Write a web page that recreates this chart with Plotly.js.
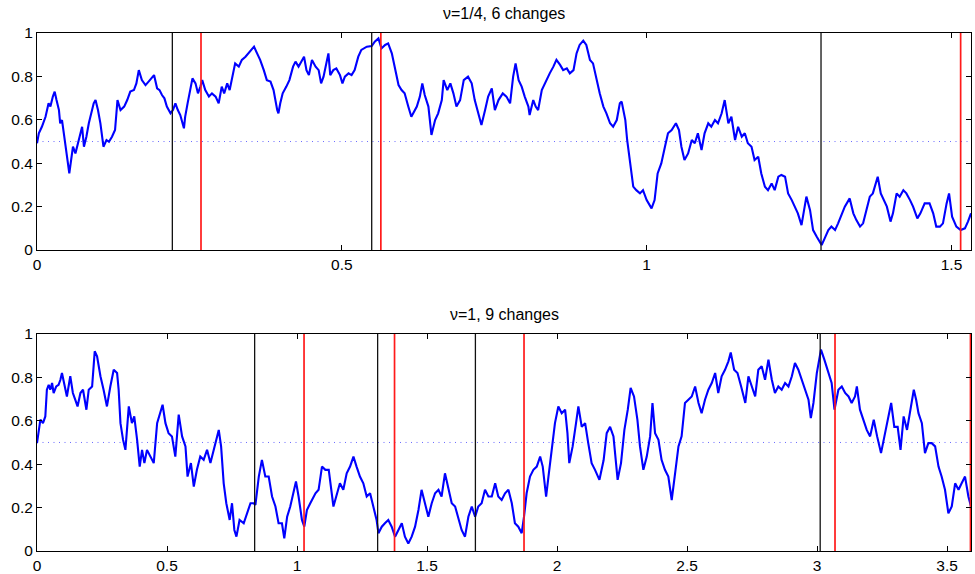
<!DOCTYPE html>
<html>
<head>
<meta charset="utf-8">
<script src="https://cdn.plot.ly/plotly-3.0.1.min.js"></script>
<style>html,body{margin:0;padding:0;background:#fff;}#chart{width:975px;height:574px;}</style>
</head>
<body>
<div id="chart"></div>
<script>
// ---------- data ----------
const topTitle = 'ν=1/4, 6 changes';
const botTitle = 'ν=1, 9 changes';

const topX = [
0.000,0.003,0.008,0.014,0.019,0.022,0.026,0.029,0.032,0.036,
0.038,0.041,0.044,0.046,0.049,0.053,0.056,0.059,0.063,0.067,
0.071,0.074,0.077,0.081,0.085,0.089,0.093,0.096,0.100,0.104,
0.107,0.109,0.114,0.118,0.123,0.128,0.132,0.137,0.143,0.148,
0.153,0.159,0.163,0.167,0.172,0.178,0.183,0.189,0.192,0.197,
0.201,0.205,0.209,0.213,0.219,0.223,0.227,0.231,0.235,0.241,
0.243,0.247,0.252,0.255,0.260,0.264,0.268,0.271,0.276,0.282,
0.287,0.293,0.298,0.303,0.307,0.312,0.316,0.320,0.325,0.331,
0.336,0.342,0.347,0.353,0.356,0.361,0.366,0.372,0.377,0.383,
0.388,0.394,0.396,0.399,0.403,0.409,0.414,0.420,0.424,0.429,
0.435,0.438,0.442,0.446,0.451,0.457,0.462,0.466,0.470,0.476,
0.478,0.481,0.486,0.491,0.497,0.501,0.505,0.511,0.516,0.521,
0.527,0.532,0.541,0.549,0.554,0.560,0.565,0.571,0.576,0.582,
0.587,0.593,0.598,0.603,0.609,0.614,0.623,0.628,0.632,0.636,
0.642,0.647,0.653,0.658,0.664,0.667,0.673,0.678,0.683,0.688,
0.694,0.700,0.707,0.713,0.718,0.724,0.729,0.735,0.740,0.746,
0.751,0.757,0.764,0.770,0.776,0.781,0.785,0.790,0.795,0.800,
0.806,0.808,0.814,0.818,0.822,0.828,0.833,0.841,0.847,0.852,
0.858,0.863,0.869,0.874,0.880,0.885,0.890,0.896,0.901,0.907,
0.912,0.918,0.923,0.929,0.934,0.940,0.945,0.951,0.956,0.959,
0.965,0.968,0.972,0.978,0.983,0.989,0.994,1.000,1.008,1.013,
1.018,1.024,1.030,1.035,1.041,1.048,1.053,1.057,1.062,1.068,
1.074,1.079,1.084,1.090,1.095,1.101,1.106,1.112,1.117,1.123,
1.128,1.134,1.139,1.145,1.150,1.156,1.161,1.166,1.172,1.177,
1.183,1.188,1.194,1.199,1.205,1.210,1.216,1.221,1.227,1.232,
1.238,1.243,1.248,1.254,1.259,1.262,1.268,1.273,1.279,1.287,
1.292,1.298,1.303,1.309,1.314,1.320,1.325,1.333,1.339,1.344,
1.350,1.355,1.361,1.366,1.371,1.379,1.384,1.389,1.394,1.400,
1.404,1.410,1.415,1.421,1.426,1.432,1.437,1.444,1.449,1.456,
1.464,1.470,1.475,1.481,1.486,1.492,1.496,1.501,1.508,1.515,
1.522,1.527,1.532];
const topY = [
0.492,0.538,0.568,0.614,0.676,0.661,0.707,0.730,0.691,0.645,
0.584,0.599,0.538,0.492,0.430,0.353,0.415,0.476,0.445,0.492,
0.538,0.568,0.476,0.522,0.584,0.630,0.676,0.691,0.645,0.584,
0.522,0.476,0.507,0.499,0.522,0.553,0.691,0.645,0.661,0.691,
0.730,0.737,0.768,0.829,0.783,0.760,0.776,0.799,0.806,0.745,
0.737,0.714,0.699,0.661,0.630,0.645,0.676,0.645,0.622,0.561,
0.614,0.676,0.753,0.791,0.768,0.722,0.753,0.783,0.737,0.707,
0.722,0.707,0.676,0.753,0.722,0.768,0.737,0.791,0.860,0.845,
0.876,0.891,0.906,0.929,0.937,0.906,0.876,0.829,0.783,0.776,
0.737,0.645,0.630,0.676,0.722,0.753,0.783,0.845,0.868,0.845,
0.876,0.891,0.829,0.806,0.876,0.845,0.829,0.768,0.799,0.891,
0.906,0.806,0.829,0.837,0.806,0.768,0.799,0.814,0.806,0.829,
0.891,0.922,0.937,0.940,0.960,0.975,0.929,0.945,0.952,0.906,
0.845,0.760,0.737,0.722,0.661,0.614,0.661,0.707,0.768,0.714,
0.661,0.530,0.599,0.630,0.691,0.783,0.737,0.768,0.722,0.661,
0.691,0.783,0.799,0.768,0.691,0.630,0.576,0.645,0.707,0.745,
0.645,0.691,0.722,0.707,0.676,0.799,0.860,0.783,0.753,0.707,
0.661,0.622,0.691,0.661,0.645,0.737,0.768,0.814,0.845,0.876,
0.853,0.829,0.837,0.814,0.829,0.906,0.945,0.965,0.945,0.876,
0.860,0.783,0.722,0.661,0.630,0.584,0.568,0.599,0.676,0.684,
0.599,0.507,0.415,0.292,0.276,0.261,0.276,0.230,0.192,0.230,
0.353,0.399,0.476,0.538,0.553,0.584,0.553,0.476,0.415,0.445,
0.507,0.492,0.538,0.461,0.538,0.584,0.568,0.599,0.584,0.630,
0.691,0.584,0.614,0.507,0.568,0.522,0.538,0.492,0.476,0.415,
0.430,0.353,0.292,0.276,0.307,0.276,0.338,0.346,0.338,0.261,
0.230,0.200,0.169,0.115,0.200,0.246,0.184,0.092,0.061,0.023,
0.054,0.092,0.108,0.092,0.123,0.169,0.200,0.238,0.169,0.138,
0.108,0.123,0.184,0.246,0.261,0.338,0.261,0.230,0.200,0.131,
0.169,0.261,0.246,0.276,0.261,0.230,0.200,0.146,0.169,0.215,
0.215,0.169,0.108,0.108,0.123,0.215,0.261,0.154,0.108,0.092,
0.100,0.131,0.169];

const botX = [
0.000,0.006,0.013,0.023,0.032,0.038,0.045,0.051,0.058,0.064,
0.074,0.083,0.090,0.096,0.105,0.115,0.128,0.138,0.147,0.156,
0.167,0.177,0.190,0.199,0.212,0.222,0.231,0.244,0.256,0.269,
0.282,0.295,0.308,0.314,0.321,0.331,0.340,0.353,0.365,0.374,
0.385,0.395,0.404,0.413,0.423,0.436,0.449,0.462,0.474,0.483,
0.494,0.506,0.519,0.532,0.545,0.558,0.571,0.579,0.592,0.603,
0.615,0.628,0.641,0.654,0.667,0.679,0.690,0.699,0.708,0.718,
0.728,0.741,0.750,0.759,0.767,0.779,0.795,0.808,0.821,0.833,
0.840,0.853,0.865,0.878,0.891,0.904,0.917,0.929,0.942,0.951,
0.962,0.974,0.987,0.996,1.006,1.019,1.028,1.038,1.051,1.071,
1.083,1.096,1.109,1.122,1.140,1.153,1.165,1.178,1.191,1.204,
1.217,1.229,1.242,1.255,1.268,1.281,1.294,1.306,1.313,1.326,
1.338,1.351,1.364,1.377,1.390,1.403,1.415,1.428,1.441,1.454,
1.467,1.479,1.492,1.505,1.518,1.531,1.544,1.556,1.569,1.582,
1.595,1.608,1.620,1.633,1.646,1.659,1.672,1.685,1.697,1.710,
1.723,1.736,1.749,1.762,1.774,1.787,1.800,1.813,1.826,1.838,
1.851,1.864,1.873,1.883,1.896,1.909,1.922,1.935,1.945,1.958,
1.967,1.979,1.992,2.005,2.018,2.031,2.040,2.047,2.060,2.073,
2.082,2.095,2.108,2.120,2.133,2.146,2.163,2.179,2.191,2.204,
2.217,2.233,2.246,2.259,2.272,2.283,2.296,2.309,2.319,2.332,
2.345,2.358,2.367,2.377,2.390,2.402,2.415,2.428,2.441,2.454,
2.467,2.479,2.492,2.505,2.518,2.531,2.544,2.556,2.569,2.582,
2.595,2.608,2.620,2.633,2.646,2.659,2.668,2.681,2.694,2.708,
2.724,2.736,2.749,2.762,2.774,2.787,2.800,2.813,2.826,2.838,
2.851,2.864,2.877,2.890,2.903,2.915,2.928,2.941,2.954,2.967,
2.976,2.986,2.999,3.015,3.028,3.041,3.056,3.067,3.082,3.095,
3.108,3.121,3.133,3.146,3.153,3.165,3.178,3.191,3.204,3.218,
3.231,3.246,3.259,3.272,3.285,3.297,3.310,3.321,3.333,3.346,
3.359,3.372,3.381,3.390,3.403,3.415,3.428,3.441,3.454,3.467,
3.479,3.492,3.505,3.518,3.531,3.544,3.556,3.569,3.582,3.592];
const botY = [
0.497,0.558,0.605,0.589,0.620,0.743,0.766,0.743,0.774,0.728,
0.758,0.766,0.789,0.820,0.774,0.712,0.805,0.728,0.697,0.666,
0.728,0.743,0.651,0.743,0.758,0.920,0.897,0.805,0.743,0.666,
0.758,0.835,0.820,0.743,0.589,0.512,0.466,0.666,0.589,0.620,
0.512,0.389,0.466,0.405,0.466,0.435,0.405,0.589,0.635,0.674,
0.589,0.543,0.528,0.435,0.628,0.528,0.482,0.343,0.405,0.297,
0.374,0.435,0.420,0.466,0.405,0.466,0.512,0.558,0.482,0.312,
0.220,0.143,0.220,0.097,0.066,0.143,0.128,0.174,0.220,0.220,
0.212,0.343,0.420,0.343,0.343,0.251,0.205,0.128,0.128,0.058,
0.158,0.205,0.266,0.320,0.251,0.143,0.112,0.189,0.220,0.266,
0.282,0.389,0.374,0.374,0.205,0.266,0.312,0.282,0.358,0.389,
0.435,0.389,0.343,0.312,0.251,0.266,0.205,0.143,0.082,0.112,
0.128,0.143,0.112,0.066,0.097,0.128,0.066,0.035,0.066,0.112,
0.189,0.282,0.220,0.158,0.220,0.266,0.282,0.251,0.358,0.282,
0.220,0.205,0.158,0.097,0.066,0.158,0.205,0.158,0.205,0.220,
0.282,0.251,0.251,0.312,0.251,0.235,0.266,0.282,0.220,0.128,
0.112,0.082,0.158,0.266,0.343,0.374,0.389,0.435,0.389,0.251,
0.343,0.466,0.589,0.666,0.635,0.651,0.543,0.405,0.482,0.589,
0.666,0.572,0.589,0.497,0.405,0.374,0.328,0.418,0.543,0.572,
0.528,0.328,0.405,0.558,0.651,0.751,0.712,0.605,0.482,0.374,
0.435,0.528,0.682,0.543,0.512,0.420,0.374,0.343,0.235,0.358,
0.482,0.528,0.682,0.697,0.712,0.758,0.682,0.635,0.697,0.743,
0.774,0.820,0.728,0.805,0.835,0.874,0.915,0.835,0.820,0.758,
0.682,0.805,0.758,0.712,0.835,0.851,0.789,0.882,0.789,0.728,
0.758,0.743,0.774,0.758,0.805,0.866,0.835,0.789,0.743,0.697,
0.612,0.682,0.820,0.928,0.882,0.835,0.774,0.651,0.743,0.758,
0.728,0.712,0.682,0.712,0.758,0.651,0.605,0.558,0.528,0.605,
0.528,0.451,0.528,0.605,0.682,0.572,0.572,0.466,0.620,0.558,
0.651,0.743,0.697,0.635,0.589,0.451,0.497,0.497,0.482,0.389,
0.343,0.282,0.174,0.205,0.312,0.282,0.312,0.343,0.251,0.205];

// change points (black = detected, red = true)
const topBlack = [0.222, 0.549, 1.286];
const topRed   = [0.269, 0.564, 1.515];
const botBlack = [0.837, 1.310, 1.686, 3.012];
const botRed   = [1.027, 1.375, 1.873, 3.069, 3.590];

const refLevel = 0.5;
const topXMax = 1.532, botXMax = 3.592;
const topXTicks = [0, 0.5, 1, 1.5];
const botXTicks = [0, 0.5, 1, 1.5, 2, 2.5, 3, 3.5];
const yTicks = [0, 0.2, 0.4, 0.6, 0.8, 1];

// ---------- traces ----------
const traces = [];
function addPanel(xs, ys, blacks, reds, xmax, xa, ya) {
  traces.push({x:[0, xmax], y:[refLevel, refLevel], xaxis:xa, yaxis:ya, mode:'lines',
    line:{color:'rgba(70,70,255,0.8)', width:1, dash:'1px,4.5px'}, hoverinfo:'skip'});
  traces.push({x:xs, y:ys, xaxis:xa, yaxis:ya, mode:'lines',
    line:{color:'#0000ff', width:2.1}});
  blacks.forEach(v => traces.push({x:[v, v], y:[0, 1], xaxis:xa, yaxis:ya, mode:'lines',
    line:{color:'#111111', width:1.3}}));
  reds.forEach(v => traces.push({x:[v, v], y:[0, 1], xaxis:xa, yaxis:ya, mode:'lines',
    line:{color:'#ff1a1a', width:1.7}}));
}
addPanel(topX, topY, topBlack, topRed, topXMax, 'x', 'y');
addPanel(botX, botY, botBlack, botRed, botXMax, 'x2', 'y2');

const axisCommon = {
  showline:true, mirror:'ticks', linecolor:'#000', linewidth:1,
  ticks:'inside', ticklen:5, tickwidth:1, tickcolor:'#000',
  showgrid:false, zeroline:false, fixedrange:true,
  tickfont:{family:'"Liberation Sans", Arial, sans-serif', size:15.5, color:'#000'}
};

const layout = {
  width:975, height:574,
  margin:{l:37, r:4, t:33, b:23},
  paper_bgcolor:'#fff', plot_bgcolor:'#fff',
  showlegend:false,
  font:{family:'"Liberation Sans", Arial, sans-serif', size:15.5, color:'#000'},
  xaxis: Object.assign({}, axisCommon, {anchor:'y', domain:[0,1], range:[0, topXMax], tickvals:topXTicks}),
  yaxis: Object.assign({}, axisCommon, {anchor:'x', domain:[0.581,1], range:[0,1], tickvals:yTicks}),
  xaxis2: Object.assign({}, axisCommon, {anchor:'y2', domain:[0,1], range:[0, botXMax], tickvals:botXTicks}),
  yaxis2: Object.assign({}, axisCommon, {anchor:'x2', domain:[0,0.419], range:[0,1], tickvals:yTicks}),
  annotations:[
    {text:topTitle, xref:'paper', yref:'paper', x:0.5, y:1.0386, xanchor:'center', yanchor:'middle',
     showarrow:false, font:{size:16, color:'#000'}},
    {text:botTitle, xref:'paper', yref:'paper', x:0.5, y:0.4575, xanchor:'center', yanchor:'middle',
     showarrow:false, font:{size:16, color:'#000'}}
  ]
};

Plotly.newPlot('chart', traces, layout, {displayModeBar:false, staticPlot:true});
</script>
</body>
</html>
